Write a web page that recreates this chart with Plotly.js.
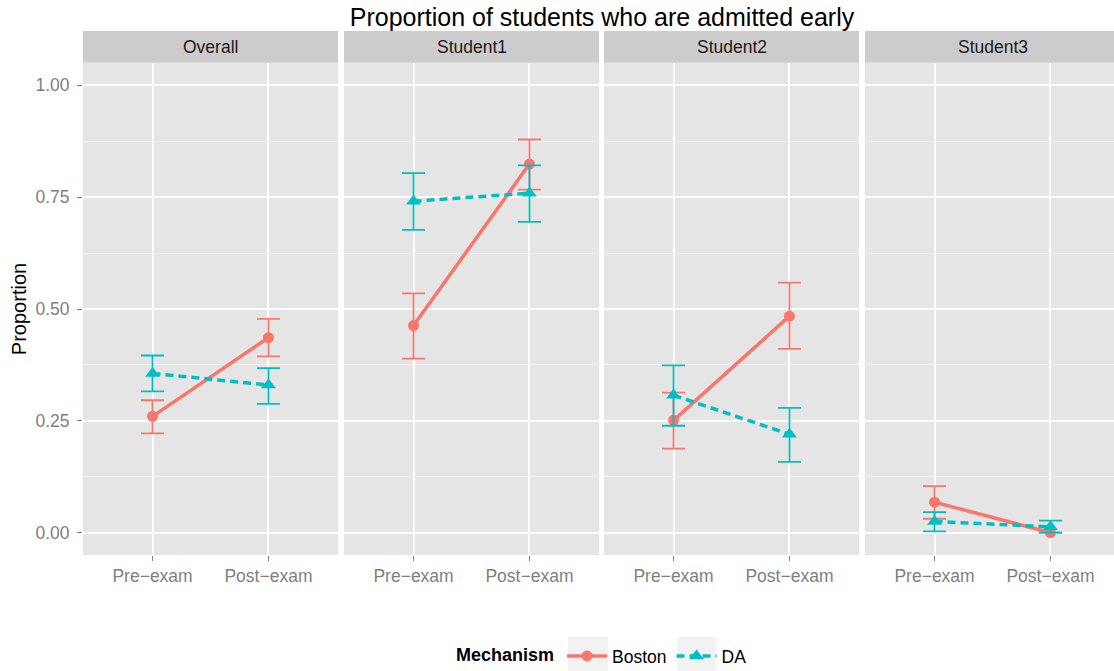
<!DOCTYPE html>
<html>
<head>
<meta charset="utf-8">
<script src="https://cdn.plot.ly/plotly-3.0.1.min.js"></script>
<style>
  html, body { margin: 0; padding: 0; background: #ffffff; }
  #chart { width: 1114px; height: 671px; }
</style>
</head>
<body>
<div id="chart"></div>
<script>
// Facets and the two exam phases
const panels = ['Overall', 'Student1', 'Student2', 'Student3'];
const phases = ['Pre\u2212exam', 'Post\u2212exam'];

// Boston mechanism: proportion admitted early with interval bounds, per facet
const bostonMean  = [[0.260, 0.436], [0.463, 0.824], [0.251, 0.484], [0.068, 0.000]];
const bostonLower = [[0.222, 0.394], [0.389, 0.767], [0.188, 0.411], [0.031, 0.000]];
const bostonUpper = [[0.296, 0.478], [0.535, 0.879], [0.313, 0.559], [0.104, 0.000]];

// DA mechanism
const daMean  = [[0.356, 0.330], [0.741, 0.759], [0.307, 0.220], [0.025, 0.013]];
const daLower = [[0.316, 0.288], [0.677, 0.695], [0.239, 0.158], [0.003, 0.000]];
const daUpper = [[0.396, 0.368], [0.804, 0.821], [0.374, 0.279], [0.046, 0.027]];

// Y axis ticks
const yTickVals = [0, 0.25, 0.5, 0.75, 1];
const yTickText = ['0.00', '0.25', '0.50', '0.75', '1.00'];

// ---- layout geometry (pixels) ----
const W = 1114, H = 671;
const M = { l: 83, r: 0, t: 63, b: 116 };
const PW = W - M.l - M.r, PH = H - M.t - M.b;
// horizontal pixel extents of each facet inside the plotting area
const facetPx = [[0, 255], [261, 516], [521, 776], [782, 1031]];
const unitPx = 255 / 2.2;

const COL_BOSTON = '#F8766D';
const COL_DA = '#00BFC4';
const FONT = '"Liberation Sans", Arial, Helvetica, sans-serif';

function diff(a, b) { return a.map((v, i) => v - b[i]); }
function pxX(x) { return (x - M.l) / PW; }
function pxY(y) { return (H - M.b - y) / PH; }

const traces = [];
panels.forEach((p, i) => {
  const xa = i === 0 ? 'x' : 'x' + (i + 1);
  traces.push({
    type: 'scatter', mode: 'lines+markers',
    name: 'Boston', legendgroup: 'Boston', showlegend: i === 0,
    x: phases, y: bostonMean[i], xaxis: xa, yaxis: 'y',
    line: { color: COL_BOSTON, width: 3.5 },
    marker: { color: COL_BOSTON, size: 11, symbol: 'circle' },
    error_y: {
      type: 'data', symmetric: false,
      array: diff(bostonUpper[i], bostonMean[i]),
      arrayminus: diff(bostonMean[i], bostonLower[i]),
      color: COL_BOSTON, thickness: 1.8, width: 11.5
    },
    hoverinfo: 'x+y+name'
  });
  traces.push({
    type: 'scatter', mode: 'lines+markers',
    name: 'DA', legendgroup: 'DA', showlegend: i === 0,
    x: phases, y: daMean[i], xaxis: xa, yaxis: 'y',
    line: { color: COL_DA, width: 3.5, dash: '8px,5px' },
    marker: { color: COL_DA, size: 13, symbol: 'triangle-up' },
    error_y: {
      type: 'data', symmetric: false,
      array: diff(daUpper[i], daMean[i]),
      arrayminus: diff(daMean[i], daLower[i]),
      color: COL_DA, thickness: 1.8, width: 11.5
    },
    hoverinfo: 'x+y+name'
  });
});

const layout = {
  width: W, height: H,
  margin: { l: M.l, r: M.r, t: M.t, b: M.b, pad: 0 },
  paper_bgcolor: '#ffffff',
  plot_bgcolor: '#ffffff',
  font: { family: FONT, size: 17, color: '#000000' },
  title: {
    text: 'Proportion of students who are admitted early',
    font: { family: FONT, size: 25, color: '#000000' },
    x: 602 / W, xanchor: 'center', xref: 'container',
    y: 1 - 17 / H, yanchor: 'middle', yref: 'container'
  },
  showlegend: true,
  legend: {
    orientation: 'h',
    xref: 'container', yref: 'container',
    x: 454 / W, xanchor: 'left',
    y: 1 - 656 / H, yanchor: 'middle',
    itemwidth: 40,
    font: { family: FONT, size: 17.5, color: '#000000' },
    title: { text: '<b>Mechanism</b>', side: 'left', font: { family: FONT, size: 18, color: '#000000' } },
    bgcolor: 'rgba(0,0,0,0)',
    itemclick: false, itemdoubleclick: false
  },
  yaxis: {
    domain: [0, 1],
    range: [-0.05, 1.05],
    tickvals: yTickVals, ticktext: yTickText,
    tickfont: { family: FONT, size: 17.5, color: '#7F7F7F' },
    ticks: 'outside', ticklen: 5, tickwidth: 1, tickcolor: '#7F7F7F',
    ticklabelstandoff: 4,
    showgrid: true, gridcolor: '#FFFFFF', gridwidth: 2,
    minor: { dtick: 0.125, tick0: 0, showgrid: true, gridcolor: '#F2F2F2', gridwidth: 1, ticks: '' },
    zeroline: false, showline: false, fixedrange: true,
    title: { text: 'Proportion', font: { family: FONT, size: 20, color: '#000000' }, standoff: 3 }
  },
  shapes: [],
  annotations: []
};

panels.forEach((p, i) => {
  const key = i === 0 ? 'xaxis' : 'xaxis' + (i + 1);
  const px = facetPx[i];
  const span = (px[1] - px[0]) / unitPx;
  layout[key] = {
    domain: [px[0] / PW, px[1] / PW],
    anchor: 'y',
    type: 'category',
    categoryorder: 'array', categoryarray: phases,
    range: [-0.6, -0.6 + span],
    tickfont: { family: FONT, size: 17.5, color: '#7F7F7F' },
    ticks: 'outside', ticklen: 5, tickwidth: 1, tickcolor: '#7F7F7F',
    showgrid: true, gridcolor: '#FFFFFF', gridwidth: 2,
    zeroline: false, showline: false, fixedrange: true
  };
  // panel background
  layout.shapes.push({
    type: 'rect', layer: 'below',
    xref: 'paper', yref: 'paper',
    x0: px[0] / PW, x1: px[1] / PW, y0: 0, y1: 1,
    fillcolor: '#E5E5E5', line: { width: 0 }
  });
  // facet strip
  layout.shapes.push({
    type: 'rect', layer: 'below',
    xref: 'paper', yref: 'paper',
    x0: px[0] / PW, x1: px[1] / PW,
    y0: 1 + 0.3 / PH, y1: 1 + (M.t - 31) / PH,
    fillcolor: '#CCCCCC', line: { width: 0 }
  });
  layout.annotations.push({
    text: p, showarrow: false,
    xref: 'paper', yref: 'paper',
    x: (px[0] + 127.5) / PW,
    y: 1 + (M.t - 47) / PH,
    xanchor: 'center', yanchor: 'middle',
    font: { family: FONT, size: 17.5, color: '#1A1A1A' }
  });
});

// grey backgrounds behind the two legend keys
[[568, 608], [677, 716]].forEach(k => {
  layout.shapes.push({
    type: 'rect', layer: 'below',
    xref: 'paper', yref: 'paper',
    x0: pxX(k[0]), x1: pxX(k[1]), y0: pxY(671), y1: pxY(637),
    fillcolor: '#F2F2F2', line: { width: 0 }
  });
});

Plotly.newPlot('chart', traces, layout, { displayModeBar: false, staticPlot: true });
</script>
</body>
</html>
